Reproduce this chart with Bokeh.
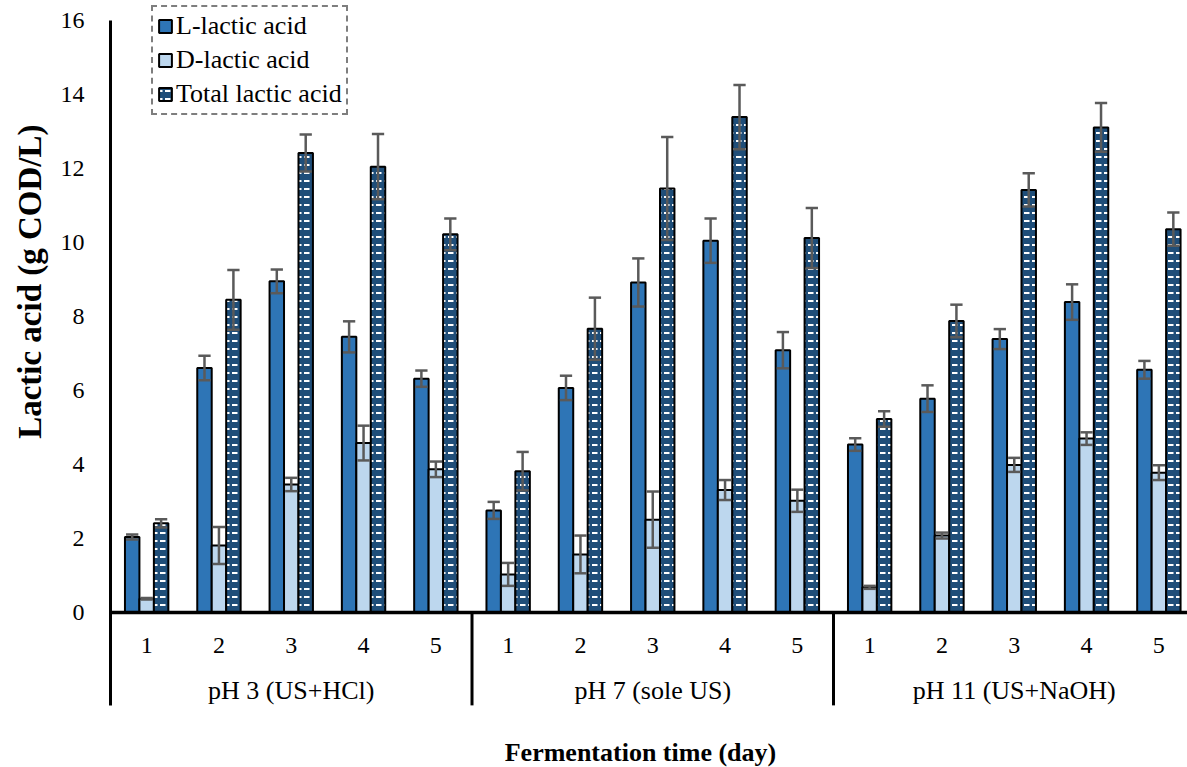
import math
from bokeh.plotting import figure
from bokeh.models import Range1d, FixedTicker, ColumnDataSource, Legend, LegendItem, Span, Title
from bokeh.core.properties import value
from bokeh.embed import file_html
from bokeh.resources import INLINE

# ---- data ----
groups = ["pH 3 (US+HCl)", "pH 7 (sole US)", "pH 11 (US+NaOH)"]
days = ["1", "2", "3", "4", "5"]
l_lactic = [2.04, 6.61, 8.95, 7.45, 6.32, 2.76, 6.07, 8.92, 10.05, 7.09, 4.54, 5.78, 7.39, 8.39, 6.56]
l_err = [0.07, 0.33, 0.32, 0.42, 0.22, 0.23, 0.33, 0.65, 0.60, 0.49, 0.17, 0.36, 0.27, 0.48, 0.24]
d_lactic = [0.37, 1.81, 3.46, 4.58, 3.87, 1.03, 1.57, 2.51, 3.31, 3.02, 0.68, 2.08, 3.99, 4.70, 3.78]
d_err = [0.02, 0.50, 0.18, 0.47, 0.21, 0.31, 0.51, 0.76, 0.27, 0.30, 0.04, 0.08, 0.19, 0.17, 0.20]
t_lactic = [2.41, 8.45, 12.42, 12.05, 10.22, 3.82, 7.67, 11.46, 13.39, 10.12, 5.23, 7.88, 11.42, 13.11, 10.36]
t_err = [0.11, 0.81, 0.50, 0.88, 0.43, 0.52, 0.84, 1.39, 0.87, 0.81, 0.21, 0.44, 0.45, 0.66, 0.45]
y_ticks = [0, 2, 4, 6, 8, 10, 12, 14, 16]
series_names = ["L-lactic acid", "D-lactic acid", "Total lactic acid"]
x_title = "Fermentation time (day)"
y_title = "Lactic acid (g COD/L)"

FONT = "Liberation Serif"
n_days = len(days)
n_cat = len(groups) * n_days
centers = [i + 0.5 for i in range(n_cat)]

Y_BOTTOM = -2.51   # lower end of the category-label band
p = figure(width=1187, height=767, output_backend="svg", toolbar_location=None,
           x_range=Range1d(0, 14.896), y_range=Range1d(-4.189, 16.541),
           x_axis_location=None, min_border_left=110, min_border_right=0,
           min_border_top=0, min_border_bottom=0)
p.outline_line_color = None
p.grid.visible = False
p.background_fill_color = "white"
p.border_fill_color = "white"

ax = p.yaxis[0]
ax.ticker = FixedTicker(ticks=y_ticks)
ax.bounds = (Y_BOTTOM, y_ticks[-1])
ax.axis_line_color = "black"
ax.axis_line_width = 3
ax.major_tick_line_color = None
ax.minor_tick_line_color = None
ax.major_label_text_font = FONT
ax.major_label_text_font_size = "24px"
ax.major_label_text_color = "black"
ax.major_label_standoff = 20

bw = 0.2
styles = [
    dict(fill_color="#2E75B6"),
    dict(fill_color="#BDD7EE"),
    dict(fill_color="#1F4E79", hatch_pattern="horizontal_dash", hatch_color="white",
         hatch_scale=8, hatch_weight=2),
]
vals = [l_lactic, d_lactic, t_lactic]
errs = [l_err, d_err, t_err]
offsets = [-bw, 0.0, bw]

renderers = []
for k in range(3):
    xs = [c + offsets[k] for c in centers]
    src = ColumnDataSource(dict(x=xs, top=vals[k]))
    r = p.vbar(x="x", top="top", bottom=0, width=bw, source=src,
               line_color="black", line_width=2, **styles[k])
    renderers.append(r)

cap = 0.085
for k in range(3):
    xs = [c + offsets[k] for c in centers]
    hi = [v + e for v, e in zip(vals[k], errs[k])]
    lo = [v - e for v, e in zip(vals[k], errs[k])]
    src = ColumnDataSource(dict(x=xs, hi=hi, lo=lo,
                                xl=[x - cap for x in xs], xr=[x + cap for x in xs]))
    p.segment(x0="x", y0="lo", x1="x", y1="hi", source=src, line_color="#5A5A5A", line_width=2.5)
    p.segment(x0="xl", y0="hi", x1="xr", y1="hi", source=src, line_color="#5A5A5A", line_width=2.5)
    p.segment(x0="xl", y0="lo", x1="xr", y1="lo", source=src, line_color="#5A5A5A", line_width=2.5)

# category axis (baseline, group separators, two label rows)
p.add_layout(Span(location=0, dimension="width", line_color="black", line_width=3.5))
sep_x = [g * n_days for g in range(1, len(groups))]
p.segment(x0=sep_x, y0=[0] * len(sep_x), x1=sep_x, y1=[Y_BOTTOM] * len(sep_x),
          line_color="black", line_width=3)

p.text(x=centers, y=[-0.89] * n_cat, text=days * len(groups),
       text_font=value(FONT), text_font_size="24px", text_color="black",
       text_align="center", text_baseline="middle")
p.text(x=[g * n_days + n_days / 2 for g in range(len(groups))], y=[-2.11] * len(groups),
       text=groups, text_font=value(FONT), text_font_size="26px", text_color="black",
       text_align="center", text_baseline="middle")
p.text(x=[7.33], y=[-3.78], text=[x_title], text_font=value(FONT), text_font_size="26px",
       text_font_style="bold", text_color="black", text_align="center", text_baseline="middle")

p.add_layout(Title(text=y_title, align="right", offset=124, vertical_align="top",
                   text_font=FONT, text_font_size="33px", text_font_style="bold",
                   text_color="black", standoff=16), "left")

legend = Legend(items=[LegendItem(label=series_names[k], renderers=[renderers[k]]) for k in range(3)],
                location=(41, 652))
legend.label_text_font = FONT
legend.label_text_font_size = "26px"
legend.label_text_color = "black"
legend.glyph_width = 16
legend.glyph_height = 16
legend.label_standoff = 3
legend.label_height = 28
legend.spacing = 4
legend.padding = 4
legend.margin = 0
legend.border_line_color = "black"
legend.border_line_dash = "7 4"
legend.border_line_width = 2
legend.background_fill_color = "white"
legend.background_fill_alpha = 1
p.add_layout(legend)

open("out.html", "w").write(file_html(p, INLINE))
